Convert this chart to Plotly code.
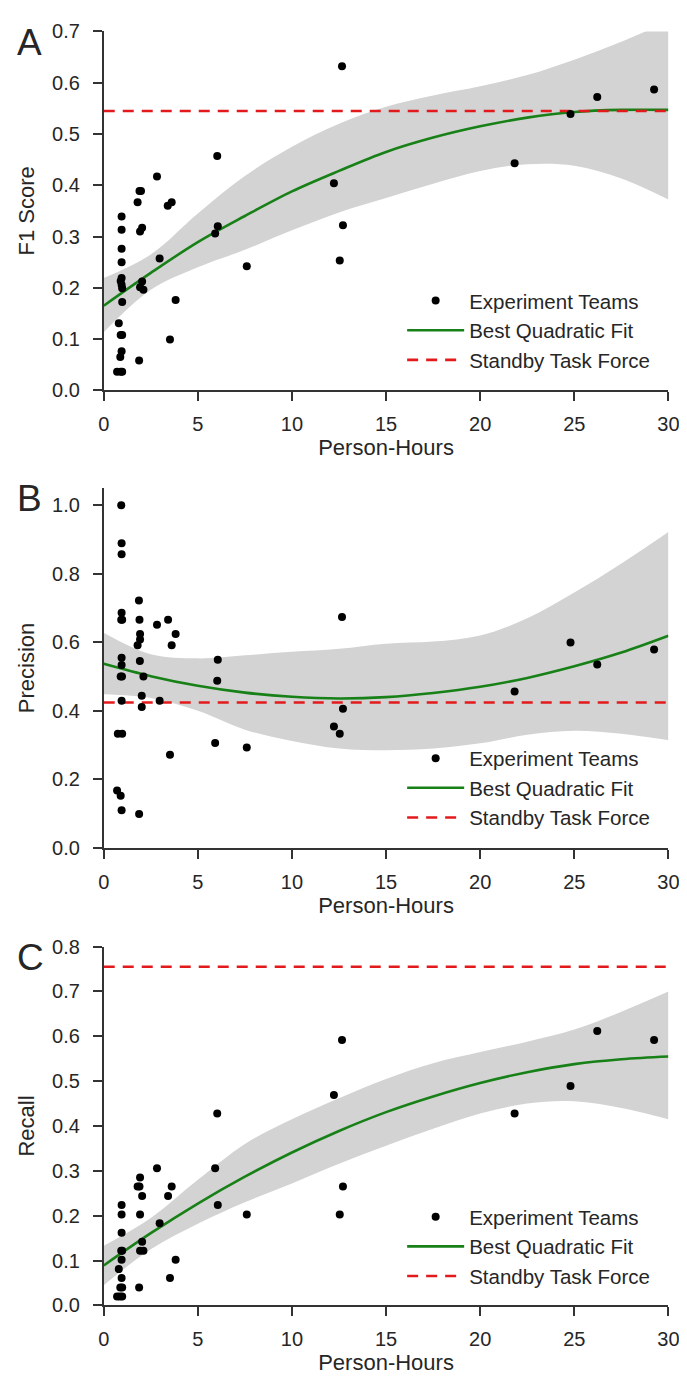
import plotly.graph_objects as go

# ---------------- data ----------------
x_range = [0, 30]

# Panel A: F1 score
f1_hours = [0.95, 0.95, 0.95, 0.95, 0.95, 0.90, 0.95, 0.98, 0.98, 0.80, 0.90, 0.98, 0.95, 0.88, 0.71, 0.90, 0.98,
            1.80, 1.90, 1.98, 1.93, 2.04, 2.04, 1.93, 2.11, 1.88,
            2.83, 2.97, 3.40, 3.61, 3.52, 3.82,
            6.03, 5.92, 6.06, 7.60,
            12.23, 12.66, 12.71, 12.54,
            21.83, 24.80, 26.22, 29.24]
f1_score = [0.339, 0.313, 0.276, 0.250, 0.219, 0.213, 0.206, 0.199, 0.172, 0.131, 0.108, 0.108, 0.076, 0.065, 0.036, 0.036, 0.036,
            0.367, 0.389, 0.389, 0.310, 0.317, 0.212, 0.201, 0.196, 0.058,
            0.417, 0.257, 0.360, 0.367, 0.099, 0.176,
            0.457, 0.306, 0.320, 0.242,
            0.404, 0.632, 0.322, 0.253,
            0.443, 0.539, 0.572, 0.587]

# Panel B: precision
prec_hours = [0.93, 0.95, 0.95, 0.95, 0.93, 0.98, 0.95, 0.95, 0.90, 0.97, 0.95, 0.75, 0.98, 0.71, 0.90, 0.95,
              1.87, 1.90, 1.93, 1.93, 1.80, 1.92, 2.11, 2.02, 2.02, 1.88,
              2.83, 2.97, 3.42, 3.61, 3.82, 3.52,
              6.06, 6.03, 5.92, 7.60,
              12.66, 12.71, 12.23, 12.54,
              21.83, 24.80, 26.22, 29.24]
prec_value = [1.000, 0.889, 0.857, 0.686, 0.666, 0.666, 0.555, 0.534, 0.500, 0.500, 0.429, 0.333, 0.333, 0.167, 0.152, 0.110,
              0.722, 0.666, 0.624, 0.608, 0.591, 0.545, 0.500, 0.444, 0.411, 0.099,
              0.651, 0.429, 0.666, 0.591, 0.624, 0.272,
              0.549, 0.488, 0.306, 0.293,
              0.674, 0.406, 0.354, 0.333,
              0.456, 0.599, 0.535, 0.579]

# Panel C: recall
rec_hours = [0.95, 0.95, 0.95, 0.93, 0.98, 0.95, 0.80, 0.95, 0.88, 0.98, 0.71, 0.85, 0.98,
             1.93, 1.80, 1.90, 2.04, 1.93, 2.04, 1.93, 2.11, 1.88,
             2.83, 2.97, 3.42, 3.61, 3.82, 3.52,
             6.03, 5.92, 6.06, 7.60,
             12.66, 12.23, 12.71, 12.54,
             21.83, 24.80, 26.22, 29.24]
rec_value = [0.224, 0.203, 0.162, 0.122, 0.122, 0.102, 0.081, 0.061, 0.040, 0.040, 0.020, 0.020, 0.020,
             0.285, 0.265, 0.265, 0.244, 0.203, 0.142, 0.122, 0.122, 0.040,
             0.306, 0.183, 0.244, 0.265, 0.102, 0.061,
             0.428, 0.306, 0.224, 0.203,
             0.592, 0.469, 0.265, 0.203,
             0.428, 0.489, 0.612, 0.592]

# Standby Task Force reference levels
standby_f1 = 0.545
standby_prec = 0.424
standby_rec = 0.755

# Quadratic fit curves and confidence bands, read at these hours
fit_hours = [0, 2.5, 5, 7.5, 10, 12.5, 15, 17.5, 20, 22.5, 25, 27.5, 30]
f1_fit = [0.165, 0.229, 0.289, 0.340, 0.388, 0.428, 0.465, 0.493, 0.515, 0.532, 0.543, 0.547, 0.547]
f1_lo = [0.113, 0.196, 0.240, 0.274, 0.312, 0.347, 0.375, 0.403, 0.428, 0.441, 0.438, 0.413, 0.372]
f1_hi = [0.219, 0.265, 0.345, 0.418, 0.475, 0.520, 0.553, 0.575, 0.593, 0.615, 0.645, 0.680, 0.720]

prec_fit = [0.537, 0.501, 0.473, 0.453, 0.441, 0.436, 0.440, 0.452, 0.470, 0.496, 0.530, 0.570, 0.619]
prec_lo = [0.448, 0.437, 0.400, 0.345, 0.312, 0.290, 0.285, 0.290, 0.305, 0.330, 0.342, 0.333, 0.314]
prec_hi = [0.628, 0.565, 0.553, 0.562, 0.572, 0.581, 0.596, 0.602, 0.620, 0.670, 0.745, 0.830, 0.922]

rec_fit = [0.089, 0.161, 0.227, 0.287, 0.341, 0.389, 0.431, 0.466, 0.496, 0.520, 0.538, 0.549, 0.555]
rec_lo = [0.045, 0.125, 0.182, 0.230, 0.272, 0.316, 0.356, 0.394, 0.428, 0.450, 0.455, 0.440, 0.415]
rec_hi = [0.133, 0.195, 0.280, 0.360, 0.415, 0.462, 0.505, 0.540, 0.565, 0.588, 0.615, 0.655, 0.700]

panel_letters = ["A", "B", "C"]
y_titles = ["F1 Score", "Precision", "Recall"]
x_title = "Person-Hours"
legend_names = ["Experiment Teams", "Best Quadratic Fit", "Standby Task Force"]

# ---------------- styling ----------------
W, H = 687, 1377
FONT = "Liberation Sans, Arial, sans-serif"
TXT = "#262626"
AX = "#333333"
GREEN = "#178017"
RED = "#e31a1c"
BAND = "#d3d3d3"

def px_x(p):
    return p / W

def px_y(p):
    return 1 - p / H

x_dom = [px_x(92), px_x(671)]
y_top_px = [12.7, 476.7, 942.7]
y_bot_px = [377.3, 842.3, 1307.3]
y_doms = [[px_y(b), px_y(t)] for t, b in zip(y_top_px, y_bot_px)]
y_ranges = [[0, 0.7], [0, 1.05], [0, 0.8]]
y_dticks = [0.1, 0.2, 0.1]

panels = [
    (f1_hours, f1_score, f1_fit, f1_lo, f1_hi, standby_f1),
    (prec_hours, prec_value, prec_fit, prec_lo, prec_hi, standby_prec),
    (rec_hours, rec_value, rec_fit, rec_lo, rec_hi, standby_rec),
]

fig = go.Figure()
layout = dict(
    width=W, height=H,
    margin=dict(l=0, r=0, t=0, b=0),
    paper_bgcolor="white", plot_bgcolor="white",
    font=dict(family=FONT, color=TXT, size=20),
    showlegend=True,
    annotations=[],
)

legend_top_px = [266, 731, 1197]

for i, (hx, hy, fit, lo, hi, sb) in enumerate(panels):
    n = "" if i == 0 else str(i + 1)
    xa, ya = "x" + n, "y" + n
    lg = "legend" + n
    # confidence band
    fig.add_trace(go.Scatter(x=fit_hours, y=lo, xaxis=xa, yaxis=ya, mode="lines",
                             line=dict(width=0, color=BAND, shape="spline"),
                             showlegend=False, hoverinfo="skip"))
    fig.add_trace(go.Scatter(x=fit_hours, y=hi, xaxis=xa, yaxis=ya, mode="lines",
                             line=dict(width=0, color=BAND, shape="spline"),
                             fill="tonexty", fillcolor=BAND,
                             showlegend=False, hoverinfo="skip"))
    # fit
    fig.add_trace(go.Scatter(x=fit_hours, y=fit, xaxis=xa, yaxis=ya, mode="lines",
                             line=dict(width=2.6, color=GREEN, shape="spline"),
                             name=legend_names[1], legend=lg, legendrank=2))
    # standby level
    fig.add_trace(go.Scatter(x=x_range, y=[sb, sb], xaxis=xa, yaxis=ya, mode="lines",
                             line=dict(width=2.6, color=RED, dash="11px,8px"),
                             name=legend_names[2], legend=lg, legendrank=3))
    # teams
    fig.add_trace(go.Scatter(x=hx, y=hy, xaxis=xa, yaxis=ya, mode="markers",
                             marker=dict(size=8, color="black"),
                             name=legend_names[0], legend=lg, legendrank=1))

    axis_common = dict(showline=True, linecolor=AX, linewidth=1.6, ticks="outside",
                       ticklen=9, tickwidth=1.6, tickcolor=AX, showgrid=False,
                       zeroline=False, tickfont=dict(size=20, color=TXT, family=FONT))
    layout["xaxis" + n] = dict(axis_common, domain=x_dom, range=x_range, tick0=0, dtick=5,
                               anchor=ya, ticklabelstandoff=6,
                               title=dict(text=x_title, font=dict(size=22, color=TXT), standoff=5))
    layout["yaxis" + n] = dict(axis_common, domain=y_doms[i], range=y_ranges[i], tick0=0,
                               dtick=y_dticks[i], tickformat=".1f", anchor=xa,
                               ticklabelstandoff=9,
                               title=dict(text=y_titles[i], font=dict(size=22, color=TXT), standoff=11))
    layout[lg] = dict(x=px_x(398), y=px_y(legend_top_px[i]), xanchor="left", yanchor="top",
                      bgcolor="rgba(0,0,0,0)", borderwidth=0, itemwidth=57,
                      font=dict(size=20.5, color=TXT, family=FONT), traceorder="normal")
    layout["annotations"].append(dict(text=panel_letters[i], xref="paper", yref="paper",
                                      x=px_x(1), y=px_y(y_top_px[i] + 11), xanchor="left",
                                      yanchor="middle", showarrow=False,
                                      font=dict(size=37, color=TXT, family=FONT)))

fig.update_layout(**layout)
fig.write_html("out.html")
